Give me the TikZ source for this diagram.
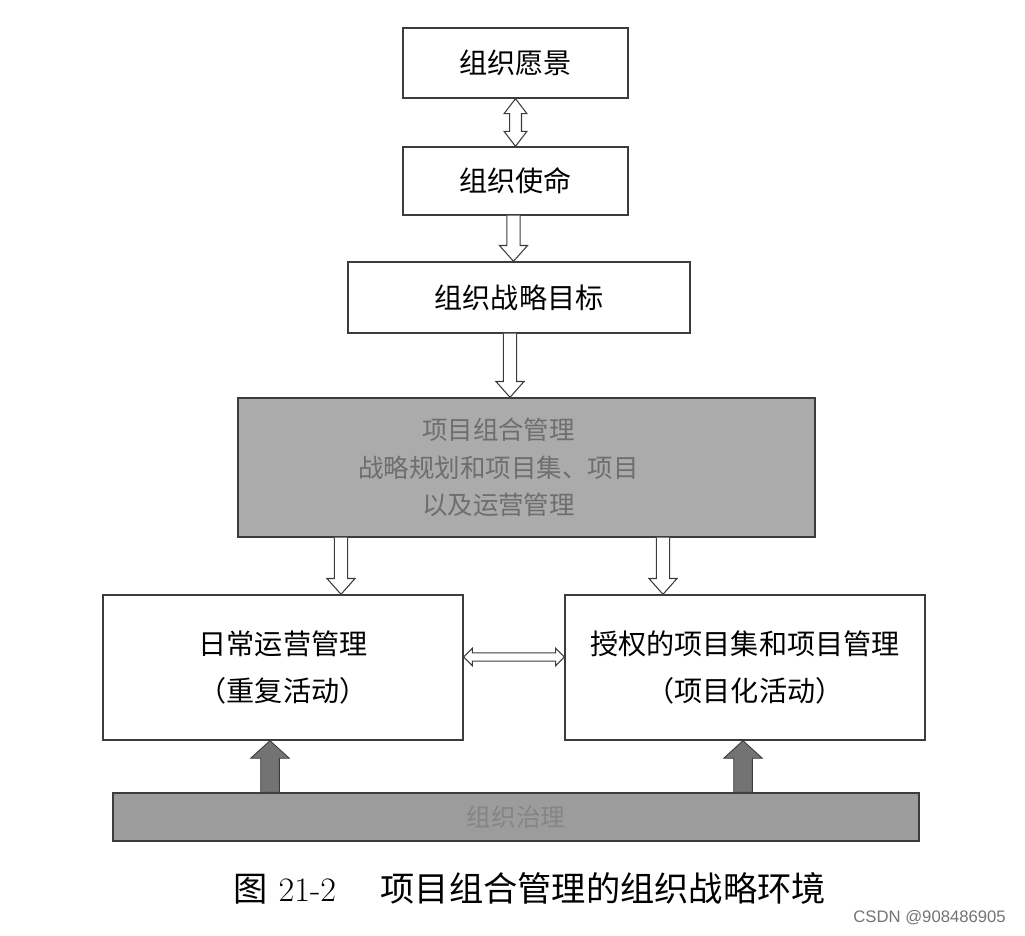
\documentclass[tikz,border=0pt]{standalone}
\usepackage{fontspec}
\newfontfamily\cjk{Noto Sans CJK SC}
\newfontfamily\marksans{Liberation Sans}
\usepackage{tikz}
\usetikzlibrary{calc,positioning}
\definecolor{org-line}{HTML}{3C3C3C}
\definecolor{org-fill}{HTML}{ABABAB}
\definecolor{org-base}{HTML}{9C9C9C}
\definecolor{org-text}{HTML}{6E6E6E}

\tikzset{
  plainbox/.style={draw=org-line, line width=0.8pt, fill=white, inner sep=0pt,
    font=\cjk\fontsize{16}{27}\selectfont, align=center},
  hollow/.style={draw=org-line, line width=0.6pt, fill=white},
  solidup/.style={draw=org-line, line width=0.5pt, fill=black!55},
}

% hollow arrow pointing down, #1 -> #2
\newcommand{\vflow}[2]{%
  \path[hollow] let \p1=(#1), \p2=(#2) in
    (\x1-3.8pt,\y1) -- (\x1-3.8pt,\y2+9pt) -- (\x1-8pt,\y2+9pt) -- (\x1,\y2)
    -- (\x1+8pt,\y2+9pt) -- (\x1+3.8pt,\y2+9pt) -- (\x1+3.8pt,\y1);}
% hollow arrow with two heads, upright
\newcommand{\vflowboth}[2]{%
  \path[hollow] let \p1=(#1), \p2=(#2) in
    (\x1,\y1) -- (\x1+6.5pt,\y1-8.5pt) -- (\x1+3.4pt,\y1-8.5pt) -- (\x1+3.4pt,\y2+8.5pt)
    -- (\x1+6.5pt,\y2+8.5pt) -- (\x1,\y2) -- (\x1-6.5pt,\y2+8.5pt) -- (\x1-3.4pt,\y2+8.5pt)
    -- (\x1-3.4pt,\y1-8.5pt) -- (\x1-6.5pt,\y1-8.5pt) -- cycle;}
% hollow arrow with two heads, lying
\newcommand{\hflowboth}[2]{%
  \path[hollow] let \p1=(#1), \p2=(#2) in
    (\x1,\y1) -- (\x1+5pt,\y1+5pt) -- (\x1+5pt,\y1+2.4pt) -- (\x2-5pt,\y1+2.4pt)
    -- (\x2-5pt,\y1+5pt) -- (\x2,\y1) -- (\x2-5pt,\y1-5pt) -- (\x2-5pt,\y1-2.4pt)
    -- (\x1+5pt,\y1-2.4pt) -- (\x1+5pt,\y1-5pt) -- cycle;}
% filled arrow pointing up, #1 -> #2
\newcommand{\upsolid}[2]{%
  \path[solidup] let \p1=(#1), \p2=(#2) in
    (\x1-5.3pt,\y1) -- (\x1-5.3pt,\y2-10pt) -- (\x1-11pt,\y2-10pt) -- (\x1,\y2)
    -- (\x1+11pt,\y2-10pt) -- (\x1+5.3pt,\y2-10pt) -- (\x1+5.3pt,\y1) -- cycle;}

\begin{document}
\begin{tikzpicture}[x=0.02cm, y=-0.02cm]
    \useasboundingbox (0,0) rectangle (1025,936);

    \node[plainbox, minimum width=4.5cm, minimum height=1.4cm] (vision) at (515.5,63) {组织愿景};
    \node[plainbox, minimum width=4.5cm, minimum height=1.36cm] (mission) at (515.5,181) {组织使命};
    \node[plainbox, minimum width=6.84cm, minimum height=1.42cm] (goal) at (519,297.5) {组织战略目标};
    \node[plainbox, fill=org-fill, minimum width=11.54cm, minimum height=2.78cm] (portfolio) at (526.5,467.5) {};
    \node[font=\cjk\fontsize{14.5}{21.5}\selectfont, text=org-text, align=center]
        (portfolio-text) at ([xshift=-0.56cm]portfolio.center) {项目组合管理\\战略规划和项目集、项目\\以及运营管理};
    \node[plainbox, minimum width=7.2cm, minimum height=2.9cm] (ops) at (283,667.5) {日常运营管理\\（重复活动）};
    \node[plainbox, minimum width=7.2cm, minimum height=2.9cm] (projs) at (745,667.5) {授权的项目集和项目管理\\（项目化活动）};
    \node[plainbox, fill=org-base, minimum width=16.12cm, minimum height=0.96cm,
        font=\cjk\fontsize{14}{16}\selectfont, text=black!48] (base) at (516,817) {组织治理};

    % connectors
    \vflowboth{vision.south}{mission.north}
    \vflow{$(mission.south)+(-2,0)$}{goal.north}
    \vflow{$(goal.south)+(-9,0)$}{portfolio.north}
    \vflow{$(portfolio.south)+(-185.5,0)$}{ops.north}
    \vflow{$(portfolio.south)+(136.5,0)$}{projs.north}
    \hflowboth{$(ops.east)+(0,-10.5)$}{projs.west}
    \upsolid{$(base.north)+(-246,0)$}{ops.south}
    \upsolid{$(base.north)+(227,0)$}{projs.south}

    \node[font=\fontsize{19.5}{22}\selectfont] (caption) at (530,888)
        {{\cjk 图} 21-2\hspace{1.3em}{\cjk 项目组合管理的组织战略环境}};
    \node[font=\marksans\fontsize{9.5}{11}\selectfont, text=black!55, anchor=east] (mark) at (1012,918) {CSDN @908486905};
\end{tikzpicture}
\end{document}
